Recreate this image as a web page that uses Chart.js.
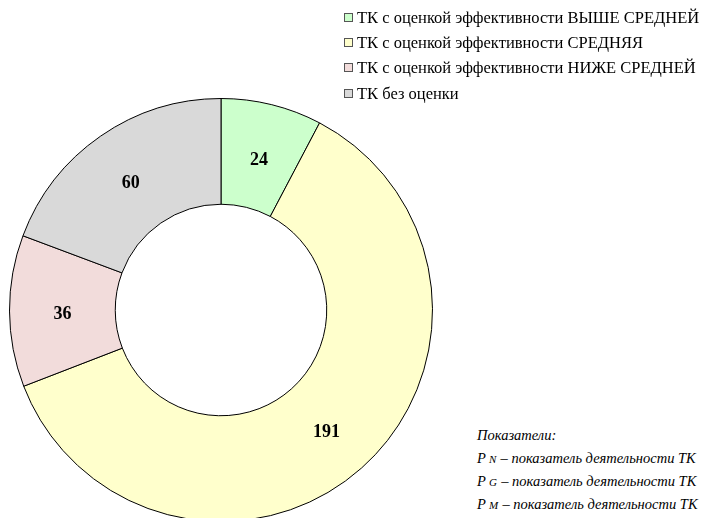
<!DOCTYPE html>
<html>
<head>
<meta charset="utf-8">
<script src="https://cdn.jsdelivr.net/npm/chart.js@4"></script>
<style>
    html, body { margin: 0; padding: 0; background: #fff; }
    body { width: 704px; height: 518px; overflow: hidden; position: relative; }
    #wrap { position: absolute; left: 8px; top: 97px; width: 426px; height: 426px; }
    #legend { position: absolute; left: 344px; top: 7px; font-family: 'Liberation Serif', 'Times New Roman', serif; font-size: 16.5px; color: #000; }
    #legend div { height: 25.2px; line-height: 22px; white-space: nowrap; }
    #legend span.box { display: inline-block; width: 7px; height: 7px; border: 1px solid #555; margin-right: 4px; vertical-align: 1px; }
    #notes { position: absolute; left: 477px; top: 426px; font-family: 'Liberation Serif', 'Times New Roman', serif; font-size: 14.5px; font-style: italic; color: #000; }
    #notes div { height: 23px; line-height: 18px; white-space: nowrap; }
    #notes small { font-size: 11px; letter-spacing: 0.5px; }
</style>
</head>
<body>
<div id="wrap"><canvas id="donut" width="426" height="426"></canvas></div>
<div id="legend"></div>
<div id="notes">
    <div>Показатели:</div>
    <div>P<small>&nbsp;N</small> – показатель деятельности ТК</div>
    <div>P<small>&nbsp;G</small> – показатель деятельности ТК</div>
    <div>P<small>&nbsp;M</small> – показатель деятельности ТК</div>
</div>
<script>
const labels = [
    'ТК с оценкой эффективности ВЫШЕ СРЕДНЕЙ',
    'ТК с оценкой эффективности СРЕДНЯЯ',
    'ТК с оценкой эффективности НИЖЕ СРЕДНЕЙ',
    'ТК без оценки'
];
const values = [24, 191, 36, 60];
const colors = ['#CCFFCC', '#FFFFCC', '#F2DCDB', '#D9D9D9'];

// legend as html, built from the same arrays
const legend = document.getElementById('legend');
labels.forEach((text, i) => {
    const row = document.createElement('div');
    row.innerHTML = '<span class="box" style="background:' + colors[i] + '"></span>' + text;
    legend.appendChild(row);
});

// values written in the middle of each slice
const sliceLabels = {
    id: 'sliceLabels',
    afterDatasetsDraw(chart) {
        const ctx = chart.ctx;
        const meta = chart.getDatasetMeta(0);
        ctx.save();
        ctx.font = 'bold 18px "Liberation Serif"';
        ctx.fillStyle = '#000';
        ctx.textAlign = 'center';
        ctx.textBaseline = 'middle';
        meta.data.forEach((arc, i) => {
            const pos = arc.tooltipPosition();
            ctx.fillText(values[i], pos.x, pos.y + 4);
        });
        ctx.restore();
    }
};

new Chart(document.getElementById('donut'), {
    type: 'doughnut',
    data: {
        labels: labels,
        datasets: [{
            data: values,
            backgroundColor: colors,
            borderColor: '#000',
            borderWidth: 1,
            borderAlign: 'center'
        }]
    },
    options: {
        responsive: false,
        animation: false,
        cutout: '50%',
        layout: { padding: 1 },
        plugins: {
            legend: { display: false },
            tooltip: { enabled: false }
        }
    },
    plugins: [sliceLabels]
});
</script>
</body>
</html>
